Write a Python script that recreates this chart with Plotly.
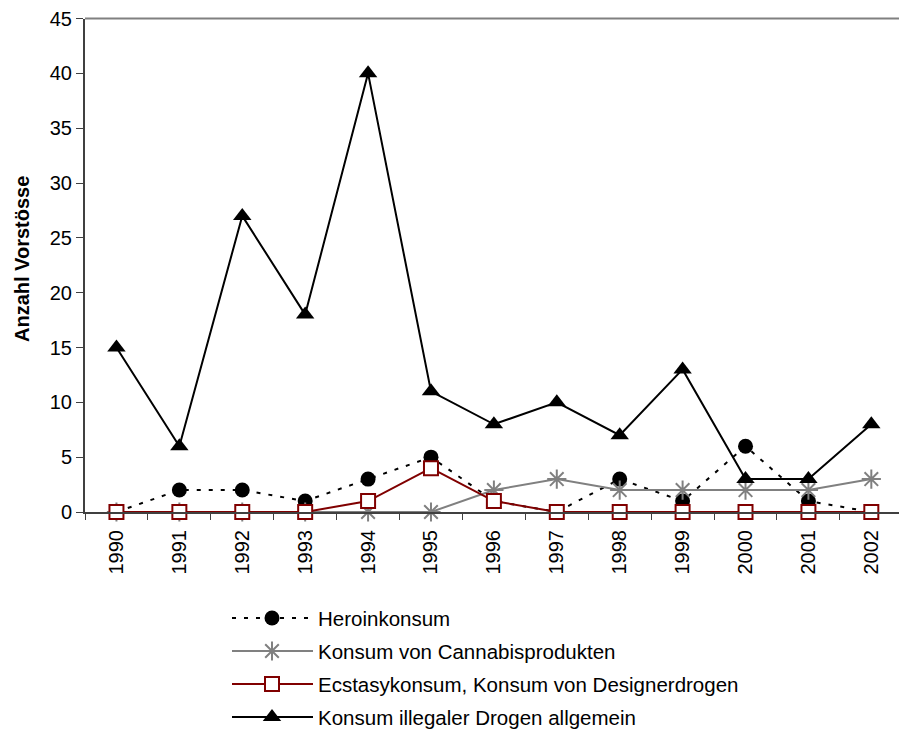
import plotly.graph_objects as go

years = ["1990", "1991", "1992", "1993", "1994", "1995", "1996", "1997", "1998", "1999", "2000", "2001", "2002"]
heroin = [0, 2, 2, 1, 3, 5, 1, 0, 3, 1, 6, 1, 0]
cannabis = [0, 0, 0, 0, 0, 0, 2, 3, 2, 2, 2, 2, 3]
ecstasy = [0, 0, 0, 0, 1, 4, 1, 0, 0, 0, 0, 0, 0]
illegal = [15, 6, 27, 18, 40, 11, 8, 10, 7, 13, 3, 3, 8]

names = ["Heroinkonsum", "Konsum von Cannabisprodukten",
         "Ecstasykonsum, Konsum von Designerdrogen", "Konsum illegaler Drogen allgemein"]

W, H = 899, 731
FONT = "Arial, Liberation Sans, sans-serif"
RED = "#800000"
GRAY = "#808080"

styles = [
    dict(line=dict(color="black", width=2, dash="4px,8px"),
         marker=dict(symbol="circle", size=15, color="black")),
    dict(line=dict(color=GRAY, width=2),
         marker=dict(symbol="asterisk-open", size=16, color=GRAY, line=dict(color=GRAY, width=2))),
    dict(line=dict(color=RED, width=2),
         marker=dict(symbol="square", size=14, color="white", line=dict(color=RED, width=2))),
    dict(line=dict(color="black", width=2),
         marker=dict(symbol="triangle-up", size=16, color="black")),
]
series = [heroin, cannabis, ecstasy, illegal]

fig = go.Figure()
for name, vals, st in zip(names, series, styles):
    fig.add_trace(go.Scatter(x=years, y=vals, name=name, mode="lines+markers",
                             line=st["line"], marker=st["marker"], showlegend=False,
                             cliponaxis=False))

# custom legend on pixel-space overlay axes
leg_rows = [618, 651, 684, 717]
for name, st, yy in zip(names, styles, leg_rows):
    fig.add_trace(go.Scatter(x=[232, 313], y=[yy, yy], mode="lines", line=st["line"],
                             xaxis="x2", yaxis="y2", showlegend=False, hoverinfo="skip"))
    fig.add_trace(go.Scatter(x=[272], y=[yy], mode="markers", marker=st["marker"],
                             xaxis="x2", yaxis="y2", showlegend=False, hoverinfo="skip"))
    fig.add_annotation(x=316, y=yy, xref="x2", yref="y2", text=name, showarrow=False,
                       xanchor="left", yanchor="middle", font=dict(family=FONT, size=20.5, color="black"))

x0 = 85 / W
y_bot = (H - 512) / H
y_top = (H - 18.5) / H

fig.update_layout(
    width=W, height=H,
    margin=dict(l=0, r=0, t=0, b=0),
    paper_bgcolor="white", plot_bgcolor="rgba(0,0,0,0)",
    font=dict(family=FONT, size=20, color="black"),
    showlegend=False,
    xaxis=dict(type="category", domain=[x0, 1], range=[-0.5, 12.44],
               showgrid=False, zeroline=False, showline=True, linecolor="#404040", linewidth=2,
               ticks="outside", tickson="boundaries", ticklen=6, tickcolor="#404040", tickwidth=1,
               tickangle=-90, ticklabelstandoff=8,
               tickfont=dict(family=FONT, size=20, color="black"), automargin=False),
    yaxis=dict(domain=[y_bot, y_top], range=[0, 45], dtick=5, showgrid=False, zeroline=False,
               showline=True, linecolor="#404040", linewidth=2,
               ticks="outside", ticklen=7, tickcolor="#404040", tickwidth=1,
               tickfont=dict(family=FONT, size=20, color="black"), automargin=False),
    xaxis2=dict(domain=[0, 1], range=[0, W], visible=False, fixedrange=True, anchor="y2"),
    yaxis2=dict(domain=[0, 1], range=[H, 0], visible=False, fixedrange=True, anchor="x2"),
    shapes=[dict(type="line", xref="paper", yref="paper", x0=x0, x1=1, y0=y_top, y1=y_top,
                 line=dict(color=GRAY, width=2))],
)
fig.add_annotation(x=22 / W, y=(H - 259) / H, xref="paper", yref="paper", text="<b>Anzahl Vorstösse</b>",
                   textangle=-90, showarrow=False, xanchor="center", yanchor="middle",
                   font=dict(family=FONT, size=20, color="black"))

fig.write_html("out.html", config={"displayModeBar": False},
               post_script="document.body.style.margin='0px';document.body.style.overflow='hidden';")
